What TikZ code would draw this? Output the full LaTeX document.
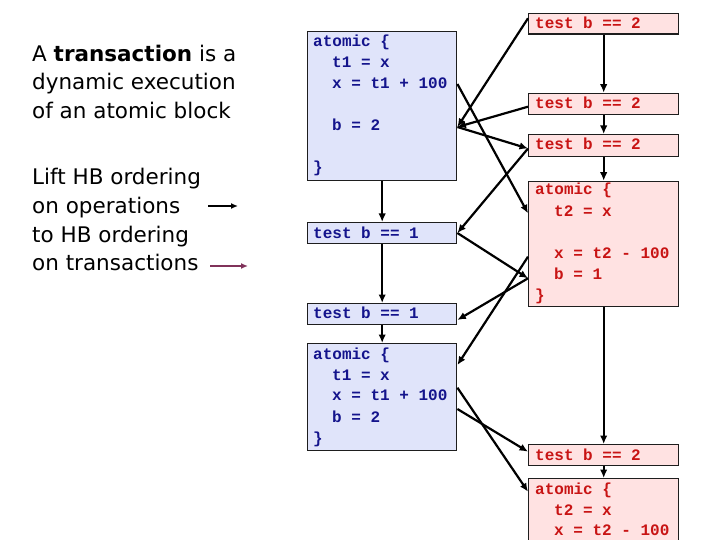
\documentclass[tikz,border=0pt]{standalone}
\usepackage{fontspec}
\setmainfont{DejaVu Sans}
\setmonofont{Liberation Mono}
\usetikzlibrary{arrows.meta,calc}
\definecolor{bfill}{RGB}{224,228,250}
\definecolor{btext}{RGB}{20,20,140}
\definecolor{rfill}{RGB}{255,226,226}
\definecolor{rtext}{RGB}{200,20,20}
\definecolor{hbpurple}{RGB}{128,50,90}
\definecolor{edge}{RGB}{30,30,30}
\begin{document}
\begin{tikzpicture}[x=1pt,y=-1pt,
  bluebox/.style={draw=edge, line width=1.4pt, fill=bfill, anchor=north west, inner sep=0pt, minimum width=149pt},
  redbox/.style={draw=edge, line width=1.4pt, fill=rfill, anchor=north west, inner sep=0pt, minimum width=150pt},
  bcode/.style={anchor=base west, inner sep=0pt, font=\ttfamily\bfseries\fontsize{16}{21}\selectfont, text=btext},
  rcode/.style={anchor=base west, inner sep=0pt, font=\ttfamily\bfseries\fontsize{16}{21}\selectfont, text=rtext},
  hb/.style={-{Latex[length=8.5pt,width=7.5pt]}, line width=2.2pt, draw=black},
  key/.style={-{Latex[length=7pt,width=6pt]}, line width=1.6pt},
  note/.style={anchor=base west, inner sep=0pt, font=\fontsize{21.5}{28}\selectfont}
]
\useasboundingbox (0,0) rectangle (720,540);
\clip (0,0) rectangle (720,540);

% left notes
\node[note] (n1) at (32,61.5) {A \textbf{transaction} is a};
\node[note] (n2) at (32,90) {dynamic execution};
\node[note] (n3) at (32,118.5) {of an atomic block};
\node[note] (n4) at (32,185) {Lift HB ordering};
\node[note] (n5) at (32,213.5) {on operations};
\node[note] (n6) at (32,242) {to HB ordering};
\node[note] (n7) at (32,270.5) {on transactions};
\coordinate (k1) at (208,206);
\coordinate (k2) at (238,206);
\coordinate (k3) at (210,266);
\coordinate (k4) at (248,266);
\draw[key, draw=black] (k1) -- (k2);
\draw[key, draw=hbpurple, -{Latex[length=7pt,width=6pt,color=hbpurple]}] (k3) -- (k4);

% blue thread boxes
\node[bluebox, minimum height=149pt] (B1) at (307,31) {};
\node[bluebox, minimum height=21pt] (B2) at (307,222) {};
\node[bluebox, minimum height=21pt] (B3) at (307,303) {};
\node[bluebox, minimum height=107pt] (B4) at (307,343) {};

% red thread boxes
\node[redbox, minimum height=20.6pt] (R1) at (528,12.7) {};
\node[redbox, minimum height=21.3pt] (R2) at (528,92.7) {};
\node[redbox, minimum height=21.7pt] (R3) at (528,134) {};
\node[redbox, minimum height=125.3pt] (R4) at (528,180.7) {};
\node[redbox, minimum height=21pt] (R5) at (528,444) {};
\node[redbox, minimum height=90pt] (R6) at (528,478) {};

% blue code
\node[bcode] (B1a) at (313,47) {atomic \{};
\node[bcode] (B1b) at (332,68) {t1 = x};
\node[bcode] (B1c) at (332,89) {x = t1 + 100};
\node[bcode] (B1d) at (332,131) {b = 2};
\node[bcode] (B1e) at (313,173) {\}};
\node[bcode] (B2a) at (313,238.3) {test b == 1};
\node[bcode] (B3a) at (313,318.3) {test b == 1};
\node[bcode] (B4a) at (313,359.3) {atomic \{};
\node[bcode] (B4b) at (332,380) {t1 = x};
\node[bcode] (B4c) at (332,400.7) {x = t1 + 100};
\node[bcode] (B4d) at (332,422) {b = 2};
\node[bcode] (B4e) at (313,443) {\}};

% red code
\node[rcode] (R1a) at (535,28.3) {test b == 2};
\node[rcode] (R2a) at (535,108.3) {test b == 2};
\node[rcode] (R3a) at (535,150) {test b == 2};
\node[rcode] (R4a) at (535,195) {atomic \{};
\node[rcode] (R4b) at (554,216) {t2 = x};
\node[rcode] (R4c) at (554,258.5) {x = t2 - 100};
\node[rcode] (R4d) at (554,279.5) {b = 1};
\node[rcode] (R4e) at (535,300.5) {\}};
\node[rcode] (R5a) at (535,460) {test b == 2};
\node[rcode] (R6a) at (535,494) {atomic \{};
\node[rcode] (R6b) at (554,515) {t2 = x};
\node[rcode] (R6c) at (554,535.5) {x = t2 - 100};

% program order
\draw[hb] (B1.south) -- (B2.north);
\draw[hb] (B2.south) -- (B3.north);
\draw[hb] (B3.south) -- (B4.north);
\draw[hb] (R1.south) -- (R2.north);
\draw[hb] (R2.south) -- (R3.north);
\draw[hb] (R3.south) -- (R4.north);
\draw[hb] (R4.south) -- (R5.north);
\draw[hb] (R5.south) -- (R6.north);

% cross-thread edges
\draw[hb] ($(R1.north west)+(0,5.6)$) -- ($(B1.north east)+(0,96)$);
\draw[hb] ($(R2.north west)+(0,14)$) -- ($(B1.north east)+(0,96)$);
\draw[hb] ($(B1.north east)+(0,96)$) -- ($(R3.north west)+(0,14.5)$);
\draw[hb] ($(R3.north west)+(0,14.5)$) -- ($(B2.north east)+(0,11)$);
\draw[hb] ($(B1.north east)+(0,53)$) -- ($(R4.north west)+(0,32.6)$);
\draw[hb] ($(B2.north east)+(0,11)$) -- ($(R4.north west)+(0,97.6)$);
\draw[hb] ($(R4.north west)+(0,97.6)$) -- ($(B3.north east)+(0,17)$);
\draw[hb] ($(R4.north west)+(0,76)$) -- ($(B4.north east)+(0,22)$);
\draw[hb] ($(B4.north east)+(0,44.7)$) -- ($(R6.north west)+(0,13.7)$);
\draw[hb] ($(B4.north east)+(0,66)$) -- ($(R5.north west)+(0,7.7)$);
\end{tikzpicture}
\end{document}
